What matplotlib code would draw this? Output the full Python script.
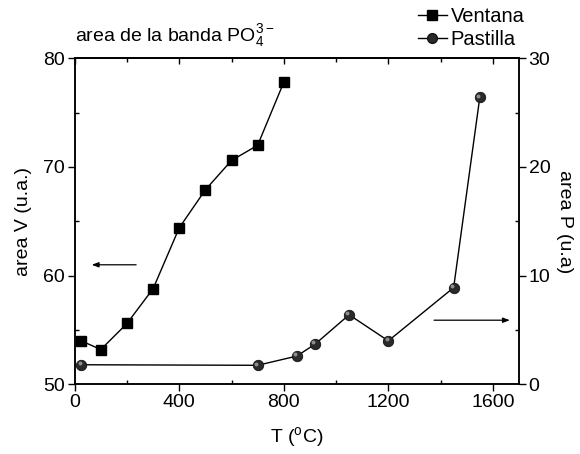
import matplotlib
matplotlib.use("Agg")
import matplotlib.pyplot as plt
from matplotlib.ticker import MultipleLocator
from matplotlib.lines import Line2D
import matplotlib.transforms as mtransforms

plt.rcParams['font.family'] = ['Liberation Sans', 'DejaVu Sans']
plt.rcParams['mathtext.fontset'] = 'custom'
plt.rcParams['mathtext.rm'] = 'Liberation Sans'
plt.rcParams['mathtext.it'] = 'Liberation Sans:italic'
plt.rcParams['mathtext.bf'] = 'Liberation Sans:bold'

# Ventana (left axis)
t_ventana = [25, 100, 200, 300, 400, 500, 600, 700, 800]
area_ventana = [54.0, 53.2, 55.6, 58.8, 64.4, 67.9, 70.6, 72.0, 77.8]

# Pastilla (right axis)
t_pastilla = [25, 700, 850, 920, 1050, 1200, 1450, 1550]
area_pastilla = [1.8, 1.75, 2.6, 3.7, 6.4, 4.0, 8.9, 26.4]

x_ticks = [0, 400, 800, 1200, 1600]
left_ticks = [50, 60, 70, 80]
right_ticks = [0, 10, 20, 30]

fs = 14
fig = plt.figure(figsize=(5.8, 4.54), dpi=100)
ax = fig.add_axes([0.1288, 0.1535, 0.766, 0.718])
ax2 = ax.twinx()

ax.set_xlim(0, 1700)
ax.set_ylim(50, 80)
ax2.set_ylim(0, 30)

ax.plot(t_ventana, area_ventana, color='black', lw=1.0, marker='s',
        markersize=7.5, markerfacecolor='black', markeredgecolor='black')

ax2.plot(t_pastilla, area_pastilla, color='black', lw=1.0, marker='o',
         markersize=7.5, markerfacecolor='#2a2a2a', markeredgecolor='#111111',
         markeredgewidth=0.6)
# highlight on the spheres
hl = mtransforms.offset_copy(ax2.transData, fig=fig, x=-1.2, y=1.2, units='points')
ax2.plot(t_pastilla, area_pastilla, linestyle='none', marker='o', markersize=2.8,
         markerfacecolor='#9a9a9a', markeredgecolor='none', alpha=0.9, transform=hl)

ax.set_xticks(x_ticks)
ax.xaxis.set_minor_locator(MultipleLocator(200))
ax.set_yticks(left_ticks)
ax.yaxis.set_minor_locator(MultipleLocator(5))
ax2.set_yticks(right_ticks)
ax2.yaxis.set_minor_locator(MultipleLocator(5))

ax.tick_params(axis='x', which='major', direction='out', length=5, width=1,
               labelsize=fs, top=False, pad=2)
ax.tick_params(axis='x', which='minor', direction='in', length=3, width=1, top=False)
ax.tick_params(axis='y', which='major', direction='out', length=5, width=1,
               labelsize=fs, pad=2)
ax.tick_params(axis='y', which='minor', direction='in', length=3, width=1)
ax2.tick_params(axis='y', which='major', direction='out', length=5, width=1,
                labelsize=fs, pad=2)
ax2.tick_params(axis='y', which='minor', direction='in', length=3, width=1)

# top axis with inward ticks
sec = ax.secondary_xaxis('top')
sec.set_xticks(x_ticks)
sec.xaxis.set_minor_locator(MultipleLocator(200))
sec.tick_params(axis='x', which='major', direction='in', length=4, width=1, labeltop=False)
sec.tick_params(axis='x', which='minor', direction='in', length=3, width=1)

for a in (ax, ax2):
    for s in a.spines.values():
        s.set_linewidth(1.1)
sec.spines['top'].set_linewidth(1.1)

ax.set_xlabel('T ($^{\\rm o}$C)', fontsize=fs, labelpad=10)
ax.set_ylabel('area V (u.a.)', fontsize=fs, labelpad=8)
ax2.set_ylabel('area P (u.a)', fontsize=fs, rotation=270, labelpad=16)

fig.text(0.129, 0.922, 'area de la banda PO$_4^{3-}$', fontsize=fs, ha='left', va='center')

# direction arrows
ax.annotate('', xy=(65, 61.0), xytext=(235, 61.0),
            arrowprops=dict(arrowstyle='-|>,head_length=0.4,head_width=0.15',
                            color='black', lw=0.9, shrinkA=0, shrinkB=0))
ax2.annotate('', xy=(1665, 5.9), xytext=(1375, 5.9),
             arrowprops=dict(arrowstyle='-|>,head_length=0.4,head_width=0.15',
                             color='black', lw=0.9, shrinkA=0, shrinkB=0))

handles = [
    Line2D([], [], color='black', lw=1.0, marker='s', markersize=6.5,
           markerfacecolor='black'),
    Line2D([], [], color='black', lw=1.0, marker='o', markersize=7,
           markerfacecolor='#2a2a2a', markeredgecolor='#111111'),
]
fig.legend(handles, ['Ventana', 'Pastilla'], loc='upper right',
           bbox_to_anchor=(0.925, 1.012), frameon=False, fontsize=fs + 0.5,
           handlelength=1.4, handletextpad=0.2, labelspacing=0.2,
           borderaxespad=0.2)

fig.savefig('out.png', dpi=100)
